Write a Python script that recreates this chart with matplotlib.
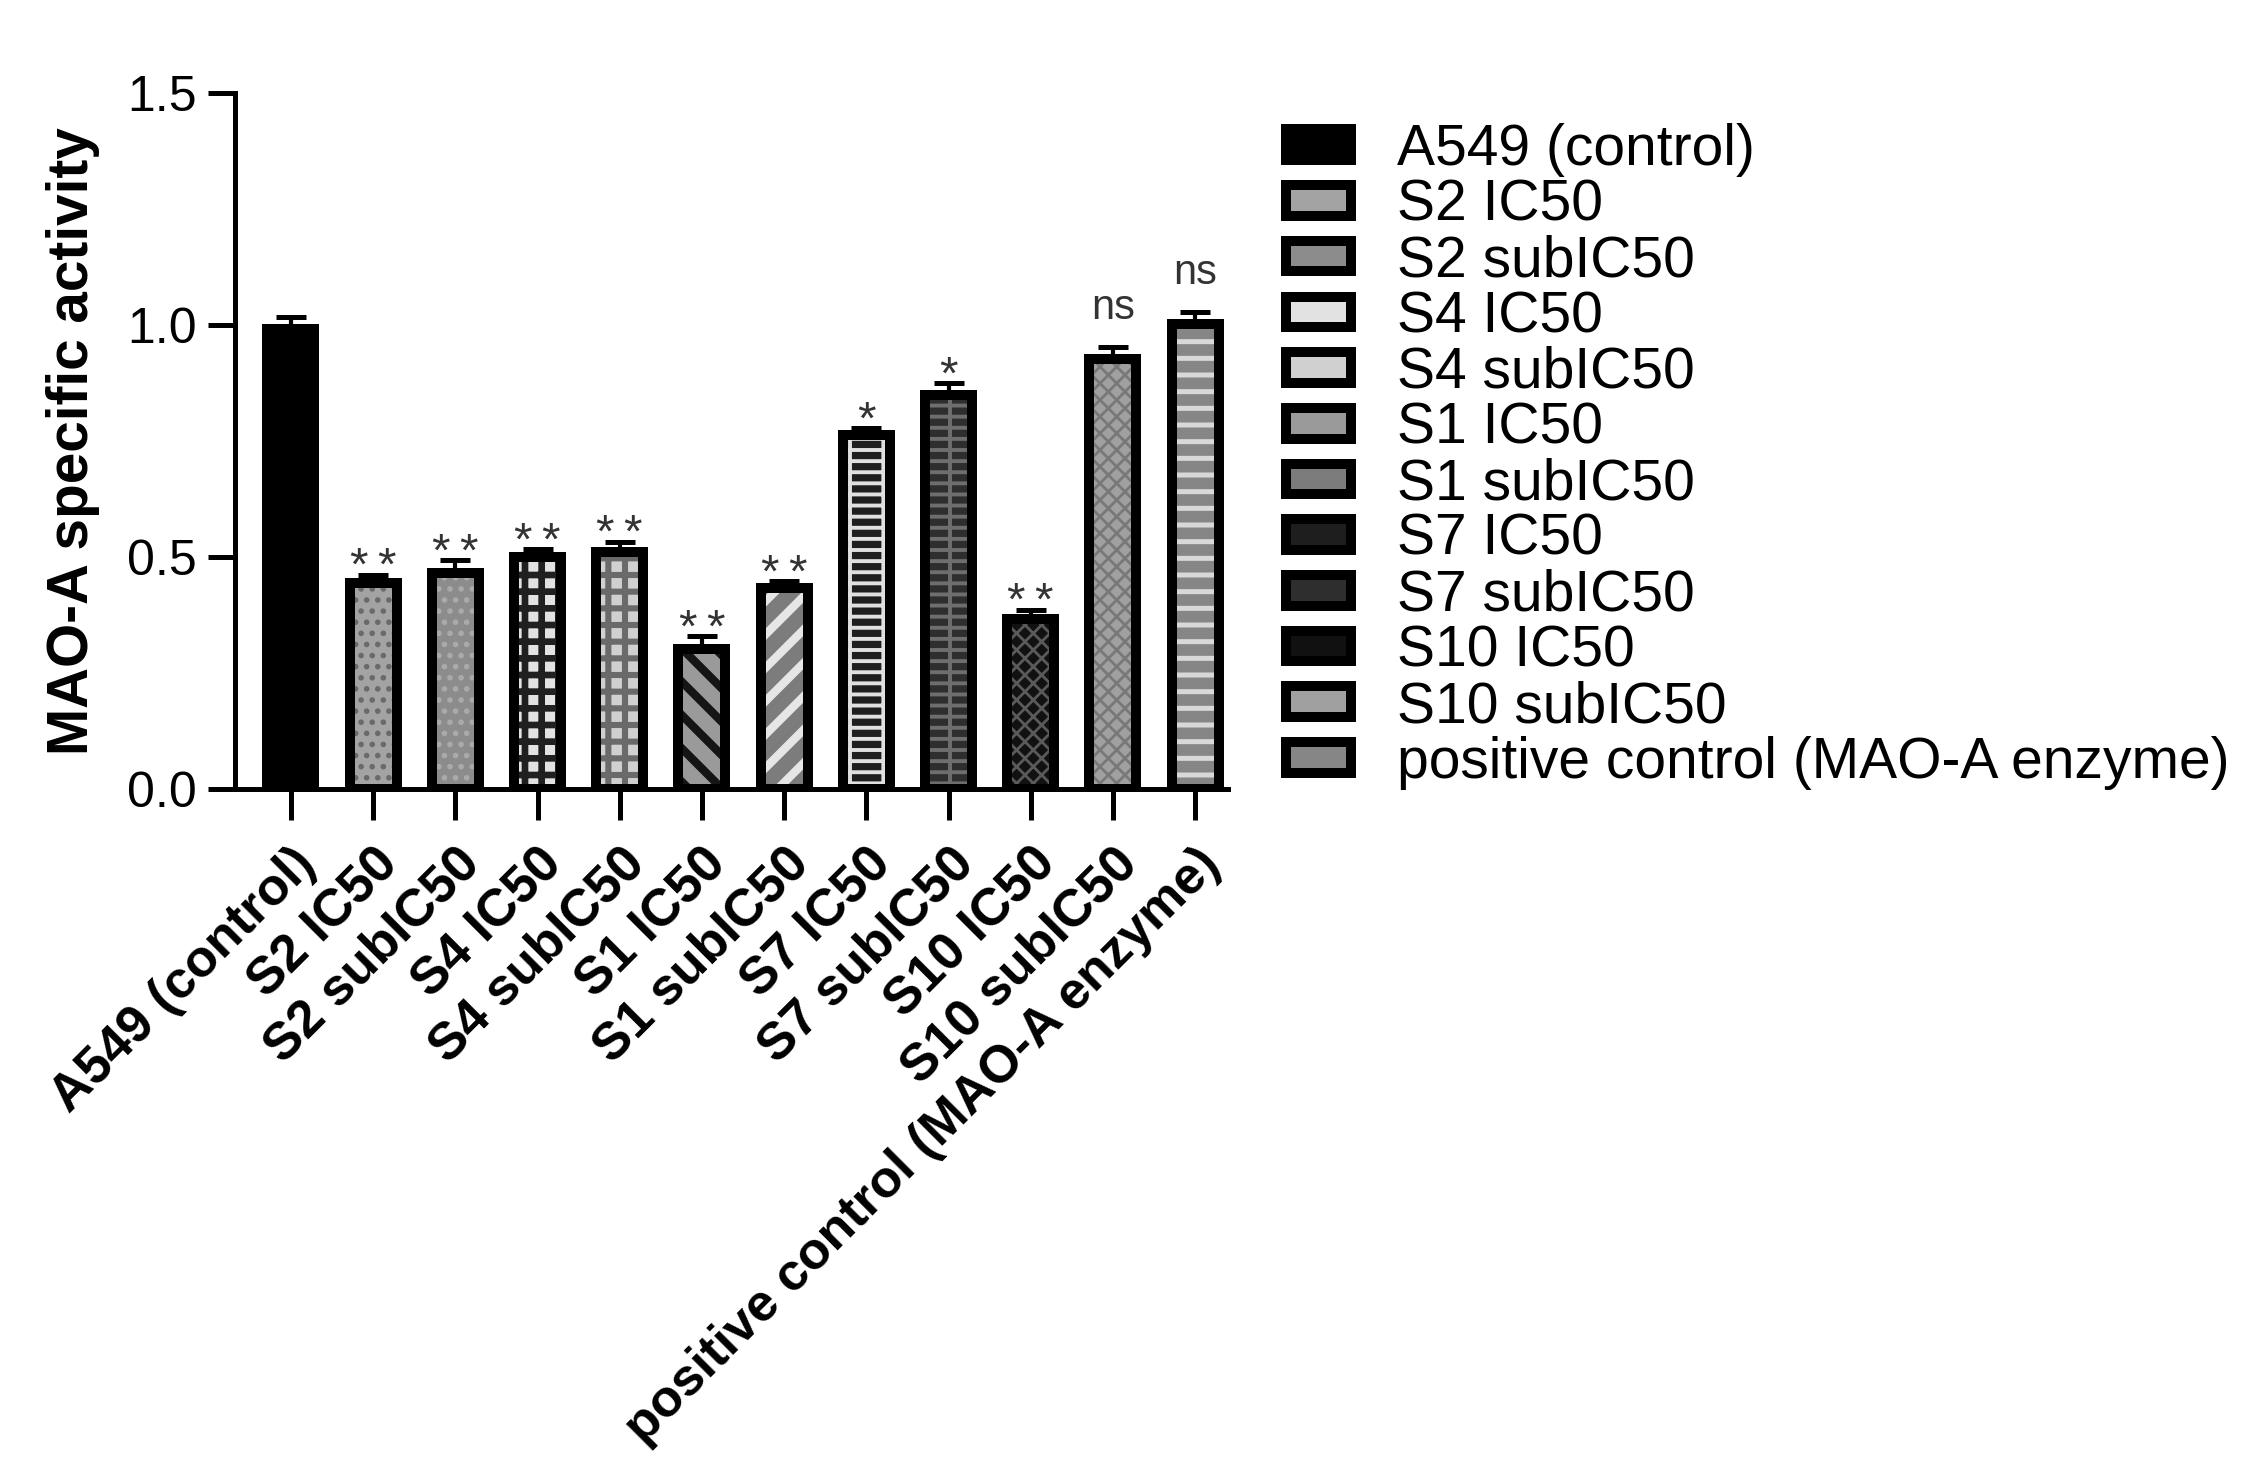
import matplotlib
matplotlib.use("Agg")
import matplotlib.pyplot as plt
from matplotlib.patches import Patch
import numpy as np

# ---------------- data ----------------
categories = ["A549 (control)", "S2 IC50", "S2 subIC50", "S4 IC50", "S4 subIC50",
              "S1 IC50", "S1 subIC50", "S7 IC50", "S7 subIC50", "S10 IC50",
              "S10 subIC50", "positive control (MAO-A enzyme)"]
values = [0.992, 0.444, 0.465, 0.499, 0.510, 0.301, 0.433, 0.762, 0.849, 0.367, 0.927, 1.002]
errors = [0.025, 0.018, 0.028, 0.017, 0.023, 0.028, 0.015, 0.015, 0.025, 0.019, 0.026, 0.025]
significance = ["", "**", "**", "**", "**", "**", "**", "*", "*", "**", "ns", "ns"]
yticks = [0.0, 0.5, 1.0, 1.5]

# ---------------- styles ----------------
fills = ["#000000", "#a3a3a3", "#8c8c8c", "#e2e2e2", "#d0d0d0", "#9a9a9a",
         "#7c7c7c", "#1e1e1e", "#2e2e2e", "#111111", "#a0a0a0", "#868686"]
hatches = [None, "...", "...", "++", "++", "\\\\", "//", "+--", "+--", "xxxx", "xxxx", "--"]
hatch_colors = ["#000000", "#6a6a6a", "#aaaaaa", "#202020", "#6a6a6a", "#151515",
                "#e6e6e6", "#e0e0e0", "#6e6e6e", "#5a5a5a", "#787878", "#d8d8d8"]
hatch_lws = [1.0, 1.2, 1.2, 2.4, 2.2, 3.0, 3.0, 1.4, 1.4, 1.0, 1.0, 1.8]

plt.rcParams["font.family"] = ["Liberation Sans", "DejaVu Sans"]

fig = plt.figure(figsize=(11.33, 7.35), dpi=200)
ax = fig.add_axes([235 / 2266, 1 - 789 / 1470, (1228 - 235) / 2266, (789 - 92.7) / 1470])

x = np.arange(len(categories))
width = 0.57
edge_lw = 3.6

# error bars (upper only)
ax.errorbar(x, values, yerr=[np.zeros(len(values)), errors], fmt="none",
            ecolor="black", elinewidth=1.5, capsize=5.5, capthick=1.8, zorder=1.5)

for i in range(len(categories)):
    with plt.rc_context({"hatch.linewidth": hatch_lws[i]}):
        b = ax.bar(x[i], values[i], width=width, color=fills[i],
                   hatch=hatches[i], edgecolor=hatch_colors[i], linewidth=0, zorder=2)
        for p in b:
            if hasattr(p, "set_hatch_linewidth"):
                p.set_hatch_linewidth(hatch_lws[i])
    ax.bar(x[i], values[i], width=width, facecolor="none", edgecolor="black",
           linewidth=edge_lw, zorder=3)

# significance labels
for i, lab in enumerate(significance):
    if not lab:
        continue
    star = "*" in lab
    txt = "*\u2009*" if lab == "**" else lab
    off = -2 if star else 10
    ax.annotate(txt, xy=(x[i], values[i] + errors[i]), xytext=(0, off),
                textcoords="offset points", ha="center", va="baseline",
                fontsize=17 if star else 15, color="#333333", zorder=5)

ax.set_xlim(-0.68, 11.40)
ax.set_ylim(0, 1.5)
ax.set_yticks(yticks)
ax.set_yticklabels([f"{t:.1f}" for t in yticks], fontsize=18)
ax.set_xticks(x)
ax.set_xticklabels(categories, fontsize=18.8, fontweight="bold",
                   rotation=45, ha="right", rotation_mode="anchor")

for s in ["top", "right"]:
    ax.spines[s].set_visible(False)
for s in ["left", "bottom"]:
    ax.spines[s].set_linewidth(1.8)
ax.tick_params(axis="y", length=9.7, width=1.8, pad=4)
ax.tick_params(axis="x", length=11, width=1.8, pad=7)

ax.set_ylabel("MAO-A specific activity", fontsize=20.4, fontweight="bold")
ax.yaxis.set_label_coords(-0.136, 0.5)

handles = [Patch(facecolor=fills[i], edgecolor="black", linewidth=edge_lw)
           for i in range(len(categories))]
fig.legend(handles, categories, loc="upper left",
           bbox_to_anchor=(1286 / 2266, 1 - 123 / 1470), frameon=False,
           fontsize=20.5, labelspacing=0.03, handlelength=1.15, handleheight=0.45,
           handletextpad=0.8, borderpad=0, borderaxespad=0)

fig.savefig("out.png", dpi=200)
